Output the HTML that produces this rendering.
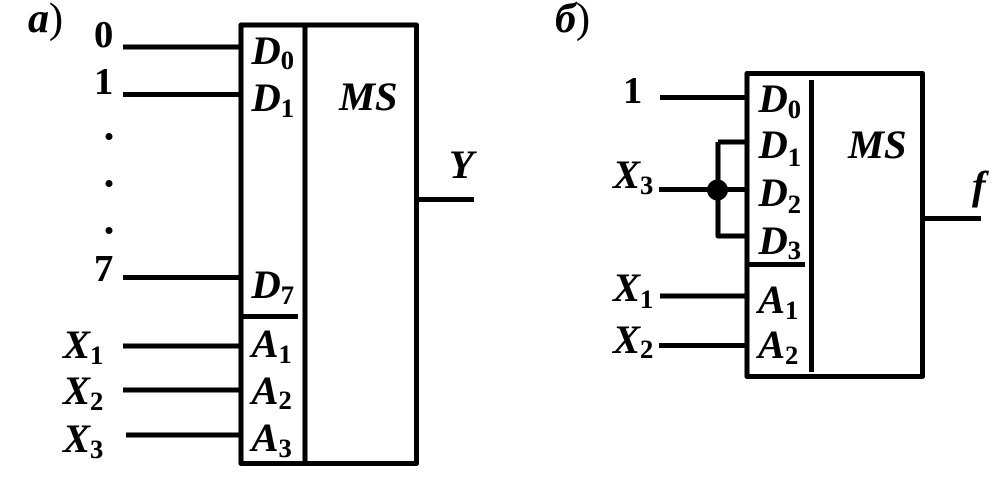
<!DOCTYPE html>
<html><head><meta charset="utf-8"><style>
html,body{margin:0;padding:0;background:#fff;width:1008px;height:496px;overflow:hidden}
svg{display:block}
text{font-family:"Liberation Serif",serif;font-weight:bold;fill:#000;stroke:#000;stroke-width:.12px}
.i{font-style:italic;font-size:40.500px}
.h{font-style:italic;font-size:42px}
.n{font-size:38.500px}
.s{font-size:26.500px;font-style:normal}
.p{font-style:normal;font-weight:normal;font-size:42px}
</style></head><body>
<svg width="1008" height="496" viewBox="0 0 1008 496" xmlns="http://www.w3.org/2000/svg">
<g fill="none" stroke="#000" stroke-width="5" stroke-linejoin="round">
<rect x="241" y="25" width="175.500" height="438.500"/>
<path d="M305 25V463M241 316.500H298M123 47H241M123 94.500H241M123 277.500H241M123 346H241M123 390H241M126 435H241M417 199.500H474"/>
<rect x="747" y="73.500" width="175.500" height="303"/>
<path d="M811.500 80V372M749 264.500H805M660 97.500H747M718 142H747M718 142V236H747M659 189.500H747M660 296H747M659 345.500H747M924 218.500H981"/>
</g>
<circle cx="717.500" cy="190" r="10.500" fill="#000"/>
<circle cx="109" cy="136.500" r="3.500" fill="#000"/>
<circle cx="109" cy="183.500" r="3.500" fill="#000"/>
<circle cx="109" cy="230.500" r="3.500" fill="#000"/>

<text x="28" y="32" class="h">a<tspan class="p">)</tspan></text>
<text x="555" y="32" class="h">б<tspan class="p">)</tspan></text>
<text x="94" y="47" class="n">0</text>
<text x="94" y="94" class="n">1</text>
<text x="94" y="281" class="n">7</text>
<text x="623" y="103" class="n">1</text>

<text x="251.500" y="64" class="i">D<tspan class="s" dy="5">0</tspan></text>
<text x="251.500" y="111" class="i">D<tspan class="s" dy="6">1</tspan></text>
<text x="251.500" y="298" class="i">D<tspan class="s" dy="6">7</tspan></text>
<text x="251.500" y="357" class="i">A<tspan class="s" dy="6">1</tspan></text>
<text x="251.500" y="404" class="i">A<tspan class="s" dy="5">2</tspan></text>
<text x="251.500" y="451" class="i">A<tspan class="s" dy="6">3</tspan></text>
<text x="63" y="358" class="i">X<tspan class="s" dy="6">1</tspan></text>
<text x="63" y="404" class="i">X<tspan class="s" dy="6">2</tspan></text>
<text x="63" y="452" class="i">X<tspan class="s" dy="6">3</tspan></text>
<text x="339" y="110" class="i">MS</text>
<text x="449" y="178" class="i">Y</text>

<text x="758.500" y="112" class="i">D<tspan class="s" dy="6">0</tspan></text>
<text x="758.500" y="158" class="i">D<tspan class="s" dy="8">1</tspan></text>
<text x="758.500" y="206" class="i">D<tspan class="s" dy="7">2</tspan></text>
<text x="758.500" y="254" class="i">D<tspan class="s" dy="5">3</tspan></text>
<text x="758" y="313" class="i">A<tspan class="s" dy="6">1</tspan></text>
<text x="758" y="358" class="i">A<tspan class="s" dy="6">2</tspan></text>
<text x="613" y="188" class="i">X<tspan class="s" dy="6">3</tspan></text>
<text x="613" y="301" class="i">X<tspan class="s" dy="7">1</tspan></text>
<text x="613" y="353" class="i">X<tspan class="s" dy="5">2</tspan></text>
<text x="848" y="158" class="i">MS</text>
<text x="972" y="199" class="i">f</text>
</svg>
</body></html>
